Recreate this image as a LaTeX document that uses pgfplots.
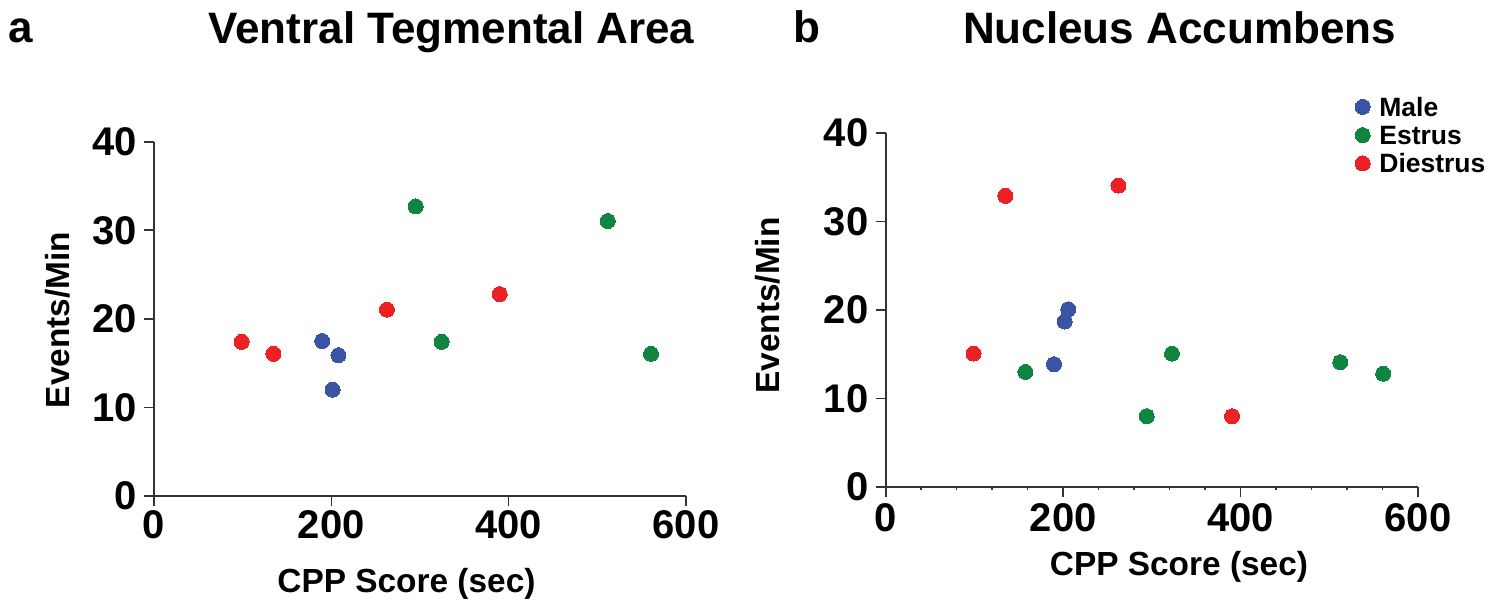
\documentclass[border=0pt]{standalone}
\usepackage{fontspec}
\setmainfont{Liberation Sans}
\usepackage{pgfplots}
\pgfplotsset{compat=1.18}
\definecolor{cMale}{RGB}{59,83,164}
\definecolor{cEst}{RGB}{16,133,63}
\definecolor{cDie}{RGB}{237,32,36}
\pgfplotsset{
  panel/.style={
    scale only axis,
    xmin=0,xmax=600,ymin=0,ymax=40,
    xtick={0,200,400,600}, ytick={0,10,20,30,40},
    axis lines*=left,
    axis line style={line width=0.8pt, black!80},
    tick style={line width=0.8pt, black!80},
    tick align=outside, major tick length=5pt, minor tick length=1.5pt,
    /pgf/number format/assume math mode=true,
    ticklabel style={font=\fontsize{20}{20}\selectfont\bfseries, inner sep=0pt},
    yticklabel style={xshift=-3.5pt},
    label style={font=\fontsize{16.7}{18}\selectfont\bfseries, inner sep=0pt},
    clip=false,
  },
  pts/.style={only marks, mark=*, mark size=3.75pt, color=#1, mark options={line width=0pt}},
}
\begin{document}
\begin{tikzpicture}
\path[use as bounding box] (0,0) rectangle (752.5pt,-300.5pt);
% Panel a
\begin{axis}[panel, at={(77pt,-248pt)}, anchor=south west, width=266pt, height=177.15pt,
  xticklabel style={yshift=-2pt},
  xlabel={CPP Score (sec)}, ylabel={Events/Min},
  xlabel style={at={(axis description cs:0.4746,-0.271)}, anchor=base},
  ylabel style={at={(axis description cs:-0.1814,0.4968)}, anchor=center, rotate=0},
]
\addplot[pts=cMale] coordinates {(189.7,17.5) (208,15.9) (201.4,12.0)};
\addplot[pts=cEst] coordinates {(295.2,32.7) (324.4,17.4) (511.7,31.05) (560.5,16.05)};
\addplot[pts=cDie] coordinates {(98.8,17.4) (134.7,16.05) (262.7,21.05) (389.9,22.8)};
\end{axis}
% Panel b
\begin{axis}[panel, at={(442.85pt,-243.5pt)}, anchor=south west, width=266.15pt, height=177pt,
  minor xtick={40,80,...,560},
  xticklabel style={yshift=-3pt},
  xlabel={CPP Score (sec)}, ylabel={Events/Min},
  xlabel style={at={(axis description cs:0.551,-0.2486)}, anchor=base},
  ylabel style={at={(axis description cs:-0.2211,0.5127)}, anchor=center, rotate=0},
  legend image code/.code={\draw[#1] plot coordinates {(0pt,0pt)};},
  legend cell align=left,
  legend style={at={(axis description cs:0.870,1.113)}, anchor=north west, draw=none, fill=none,
    font=\fontsize{13.25}{14}\selectfont\bfseries, row sep=4.6pt,
    nodes={inner sep=0pt, text height=9.5pt, text depth=0pt},
    /tikz/every odd column/.append style={column sep=4.6pt}},
]
\addplot[pts=cMale] coordinates {(189.7,13.87) (201.7,18.7) (205.8,20.08)};
\addlegendentry{Male}
\addplot[pts=cEst] coordinates {(157.5,13.0) (294.2,8.0) (322.7,15.08) (512.4,14.1) (560.8,12.8)};
\addlegendentry{Estrus}
\addplot[pts=cDie] coordinates {(99,15.08) (134.9,32.9) (262.4,34.06) (390.4,8.0)};
\addlegendentry{Diestrus}
\end{axis}
\node[anchor=base, font=\fontsize{22}{24}\selectfont\bfseries, inner sep=0pt] at (225.75pt,-21.65pt) {Ventral Tegmental Area};
\node[anchor=base, font=\fontsize{22}{24}\selectfont\bfseries, inner sep=0pt] at (589.75pt,-21.5pt) {Nucleus Accumbens};
\node[anchor=base west, font=\fontsize{22}{24}\selectfont\bfseries, inner sep=0pt] at (4.3pt,-21.3pt) {a};
\node[anchor=base west, font=\fontsize{22}{24}\selectfont\bfseries, inner sep=0pt] at (396.5pt,-21.3pt) {b};
\end{tikzpicture}
\end{document}
